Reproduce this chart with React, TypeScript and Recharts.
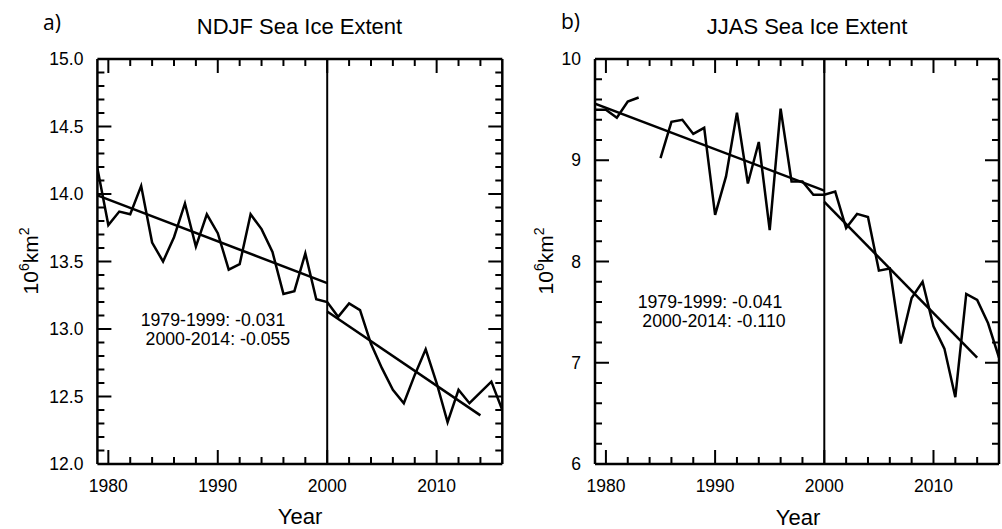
import { LineChart, Line, XAxis, YAxis, ReferenceLine } from 'recharts';

const FONT = '"Liberation Sans", Arial, Helvetica, sans-serif';

const years = [
  1979, 1980, 1981, 1982, 1983, 1984, 1985, 1986, 1987, 1988, 1989, 1990, 1991,
  1992, 1993, 1994, 1995, 1996, 1997, 1998, 1999, 2000, 2001, 2002, 2003, 2004,
  2005, 2006, 2007, 2008, 2009, 2010, 2011, 2012, 2013, 2014, 2015, 2016,
];

// NDJF extent, 10^6 km^2
const ndjfExtent = [
  14.19, 13.77, 13.87, 13.85, 14.06, 13.64, 13.5, 13.68, 13.93, 13.61, 13.85, 13.71, 13.44,
  13.48, 13.85, 13.74, 13.57, 13.26, 13.28, 13.56, 13.22, 13.2, 13.09, 13.19, 13.14, 12.89,
  12.71, 12.55, 12.45, 12.66, 12.85, 12.6, 12.31, 12.55, 12.45, 12.53, 12.61, 12.4,
];

// JJAS extent (1984 missing)
const jjasExtent = [
  9.5, 9.5, 9.42, 9.58, 9.62, null, 9.02, 9.38, 9.4, 9.26, 9.32, 8.46, 8.84,
  9.47, 8.77, 9.18, 8.31, 9.51, 8.79, 8.79, 8.66, 8.66, 8.69, 8.33, 8.47, 8.44,
  7.91, 7.93, 7.19, 7.64, 7.8, 7.36, 7.14, 6.66, 7.68, 7.62, 7.39, 7.05,
];

// linear fits, endpoints
const fitYears1 = [1979, 2000];
const fitYears2 = [2000, 2014];
const ndjfFit1 = [13.99, 13.34];
const ndjfFit2 = [13.13, 12.36];
const jjasFit1 = [9.56, 8.7];
const jjasFit2 = [8.59, 7.05];

const X_DOMAIN: [number, number] = [1979, 2016];
const xMajor = [1980, 1990, 2000, 2010];
const ndjfMajor = [12.0, 12.5, 13.0, 13.5, 14.0, 14.5, 15.0];
const jjasMajor = [6, 7, 8, 9, 10];

const xMinor: number[] = [];
for (let y = 1980; y <= 2014; y += 2) xMinor.push(y);
const ndjfMinor: number[] = [];
for (let i = 0; i <= 30; i++) ndjfMinor.push(Math.round((12 + i * 0.1) * 10) / 10);
const jjasMinor: number[] = [];
for (let i = 0; i <= 20; i++) jjasMinor.push(Math.round((6 + i * 0.2) * 10) / 10);

const isIn = (v: number, list: number[]) => list.some((m) => Math.abs(m - v) < 1e-6);
const toRows = (xs: number[], vs: (number | null)[]) => xs.map((x, i) => ({ year: x, v: vs[i] }));

const HEIGHT = 529;
const TOP = 59;
const BOTTOM = 65;
const MAJOR_LEN = 14;
const MINOR_LEN = 7;

type Row = { year: number; v: number | null };

const XLabel = (p: any) => (
  <text x={p.x} y={p.y + 28} textAnchor="middle" fontSize={17.5} fontFamily={FONT} fill="#000">
    {p.payload.value}
  </text>
);

interface PanelProps {
  rows: Row[];
  fit1: Row[];
  fit2: Row[];
  domain: [number, number];
  yMajor: number[];
  yMinor: number[];
  fmt: (v: number) => string;
  width: number;
  left: number;
  right: number;
}

// NCL-style frame: inward ticks on all four sides, drawn as one broken line series
function Panel({ rows, fit1, fit2, domain, yMajor, yMinor, fmt, width, left, right }: PanelProps) {
  const axisLine = { stroke: '#000', strokeWidth: 2.5 };
  const plotW = width - left - right;
  const plotH = HEIGHT - TOP - BOTTOM;
  const kx = (X_DOMAIN[1] - X_DOMAIN[0]) / plotW; // years per px
  const ky = (domain[1] - domain[0]) / plotH; // units per px
  const tickRows: Row[] = [];
  const seg = (x0: number, y0: number, x1: number, y1: number) => {
    tickRows.push({ year: x0, v: y0 }, { year: x1, v: y1 }, { year: x1, v: null });
  };
  xMinor.forEach((t) => {
    const len = (isIn(t, xMajor) ? MAJOR_LEN : MINOR_LEN) * ky;
    seg(t, domain[0], t, domain[0] + len);
    seg(t, domain[1], t, domain[1] - len);
  });
  yMinor.forEach((t) => {
    const len = (isIn(t, yMajor) ? MAJOR_LEN : MINOR_LEN) * kx;
    seg(X_DOMAIN[0], t, X_DOMAIN[0] + len, t);
    seg(X_DOMAIN[1], t, X_DOMAIN[1] - len, t);
  });
  return (
    <LineChart width={width} height={HEIGHT} data={rows} margin={{ top: TOP - 1, right: right - 1, bottom: BOTTOM - 1, left: left - 1 }}>
      <XAxis xAxisId="b" dataKey="year" type="number" domain={X_DOMAIN} allowDataOverflow ticks={xMajor} interval={0}
        height={1} tickSize={0} tickMargin={0} axisLine={axisLine} tickLine={false} tick={XLabel} />
      <XAxis xAxisId="t" orientation="top" type="number" domain={X_DOMAIN} allowDataOverflow ticks={xMajor}
        height={1} axisLine={axisLine} tickLine={false} tick={false} />
      <YAxis yAxisId="l" type="number" domain={domain} allowDataOverflow ticks={yMajor} interval={0}
        width={1} tickSize={0} tickMargin={0} axisLine={axisLine} tickLine={false}
        tick={(p: any) => (
          <text x={p.x - 14} y={p.y + 6} textAnchor="end" fontSize={17.5} fontFamily={FONT} fill="#000">
            {fmt(p.payload.value)}
          </text>
        )} />
      <YAxis yAxisId="r" orientation="right" type="number" domain={domain} allowDataOverflow ticks={yMajor}
        width={1} axisLine={axisLine} tickLine={false} tick={false} />
      <ReferenceLine xAxisId="b" yAxisId="l" x={2000} stroke="#000" strokeWidth={2} />
      <Line xAxisId="b" yAxisId="l" data={tickRows} dataKey="v" stroke="#000" strokeWidth={2} strokeLinecap="butt"
        dot={false} activeDot={false} connectNulls={false} legendType="none" isAnimationActive={false} />
      <Line xAxisId="b" yAxisId="l" dataKey="v" stroke="#000" strokeWidth={2.5} dot={false} isAnimationActive={false} />
      <Line xAxisId="b" yAxisId="l" data={fit1} dataKey="v" stroke="#000" strokeWidth={2.5} dot={false} isAnimationActive={false} />
      <Line xAxisId="b" yAxisId="l" data={fit2} dataKey="v" stroke="#000" strokeWidth={2.5} dot={false} isAnimationActive={false} />
    </LineChart>
  );
}

function YLabel({ x, y }: { x: number; y: number }) {
  return (
    <text transform={`translate(${x},${y}) rotate(-90)`} textAnchor="middle" fontSize={21} fontFamily={FONT} fill="#000">
      10
      <tspan dy={-9} fontSize={14}>6</tspan>
      <tspan dy={9}>km</tspan>
      <tspan dy={-9} fontSize={14}>2</tspan>
    </text>
  );
}

export default function App() {
  return (
    <div style={{ position: 'absolute', left: 0, top: 0, width: 1002, height: 529, background: '#fff' }}>
      <div style={{ position: 'absolute', left: 0, top: 0 }}>
        <Panel
          rows={toRows(years, ndjfExtent)}
          fit1={toRows(fitYears1, ndjfFit1)}
          fit2={toRows(fitYears2, ndjfFit2)}
          domain={[12, 15]}
          yMajor={ndjfMajor}
          yMinor={ndjfMinor}
          fmt={(v) => v.toFixed(1)}
          width={510}
          left={97.4}
          right={7.7}
        />
      </div>
      <div style={{ position: 'absolute', left: 505, top: 0 }}>
        <Panel
          rows={toRows(years, jjasExtent)}
          fit1={toRows(fitYears1, jjasFit1)}
          fit2={toRows(fitYears2, jjasFit2)}
          domain={[6, 10]}
          yMajor={jjasMajor}
          yMinor={jjasMinor}
          fmt={(v) => String(Math.round(v))}
          width={497}
          left={90}
          right={3}
        />
      </div>
      <svg width={1002} height={529} style={{ position: 'absolute', left: 0, top: 0, pointerEvents: 'none' }}>
        <text x={43} y={30} fontSize={21} fontFamily='"Open Sans", sans-serif' fill="#000">a)</text>
        <text x={561} y={29} fontSize={21} fontFamily='"Open Sans", sans-serif' fill="#000">b)</text>
        <text x={299.5} y={34} textAnchor="middle" fontSize={22} fontFamily={FONT} fill="#000">NDJF Sea Ice Extent</text>
        <text x={807} y={34} textAnchor="middle" fontSize={22} fontFamily={FONT} fill="#000">JJAS Sea Ice Extent</text>
        <text fontSize={17.7} fontFamily={FONT} fill="#000">
          <tspan x={140.7} y={326}>1979-1999: -0.031</tspan>
          <tspan x={145.6} y={345}>2000-2014: -0.055</tspan>
        </text>
        <text fontSize={17.7} fontFamily={FONT} fill="#000">
          <tspan x={637.7} y={307.7}>1979-1999: -0.041</tspan>
          <tspan x={642.3} y={326.7}>2000-2014: -0.110</tspan>
        </text>
        <text x={300} y={524} textAnchor="middle" fontSize={22} fontFamily={FONT} fill="#000">Year</text>
        <text x={798} y={525} textAnchor="middle" fontSize={22} fontFamily={FONT} fill="#000">Year</text>
        <YLabel x={38} y={261} />
        <YLabel x={553} y={261} />
      </svg>
    </div>
  );
}
